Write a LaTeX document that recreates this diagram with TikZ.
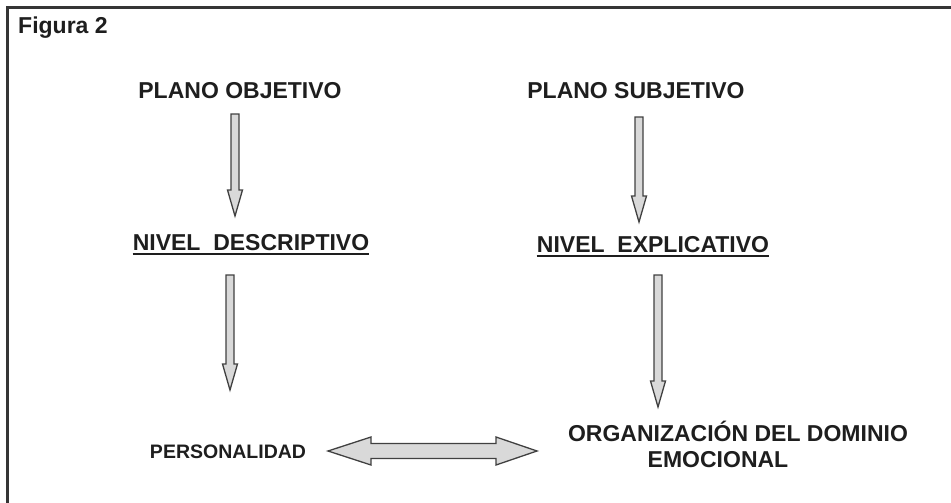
\documentclass[tikz,border=0pt]{standalone}
\usepackage{fontspec}
\setmainfont{Liberation Sans}
\usetikzlibrary{calc}
\definecolor{tinta}{HTML}{1E1E1E}
\definecolor{relleno}{HTML}{D9D9D9}
\tikzset{
  titulo/.style={font=\bfseries\fontsize{23}{25.5}\selectfont, text=tinta, inner sep=0pt},
  chico/.style={font=\bfseries\fontsize{19.5}{24}\selectfont, text=tinta, inner sep=0pt},
  flecha/.style={draw=tinta!85, fill=relleno, line width=1.3pt, line join=miter},
  subraya/.style={draw=tinta, line width=2pt},
}
% flecha de bloque vertical, de #1 hacia abajo hasta #2
\newcommand{\flechabaja}[2]{%
  \draw[flecha] let \p1=(#1), \p2=(#2) in
    (\x1-4pt,\y1) -- (\x1+4pt,\y1) -- (\x1+4pt,\y2+26pt) -- (\x1+7.5pt,\y2+26pt)
    -- (\x1,\y2) -- (\x1-7.5pt,\y2+26pt) -- (\x1-4pt,\y2+26pt) -- cycle;}
% flecha de bloque doble, horizontal
\newcommand{\flechadoble}[2]{%
  \draw[flecha] let \p1=(#1), \p2=(#2) in
    (\x1,\y1) -- (\x1+43pt,\y1+14pt) -- (\x1+43pt,\y1+7.5pt) -- (\x2-41pt,\y1+7.5pt)
    -- (\x2-41pt,\y1+14pt) -- (\x2,\y1) -- (\x2-41pt,\y1-14pt) -- (\x2-41pt,\y1-7.5pt)
    -- (\x1+43pt,\y1-7.5pt) -- (\x1+43pt,\y1-14pt) -- cycle;}
\begin{document}
\begin{tikzpicture}[x=1pt, y=-1pt]
  \useasboundingbox (0,0) rectangle (951,503);
  % marco
  \draw[tinta!90, line width=2.5pt] (7.5,503) -- (7.5,7.5) -- (951,7.5);
  % textos
  \node[titulo, anchor=west] (fig) at (18,28) {Figura 2};
  \node[titulo] (pobj) at (240,91) {PLANO OBJETIVO};
  \node[titulo] (psub) at (636,91) {PLANO SUBJETIVO};
  \node[titulo] (ndes) at (251,243) {NIVEL\ \ DESCRIPTIVO};
  \node[titulo] (nexp) at (653,245) {NIVEL\ \ EXPLICATIVO};
  \node[chico] (pers) at (228,452) {PERSONALIDAD};
  \node[titulo, align=center, anchor=base] (orga) at (738,467)
    {ORGANIZACIÓN DEL DOMINIO\\\hspace*{-40pt}EMOCIONAL};
  \draw[subraya] ($(ndes.base west)+(0,3)$) -- ($(ndes.base east)+(0,3)$);
  \draw[subraya] ($(nexp.base west)+(0,3)$) -- ($(nexp.base east)+(0,3)$);
  % extremos de las flechas
  \coordinate (a1) at (235,114);  \coordinate (b1) at (235,216);
  \coordinate (a2) at (639,117);  \coordinate (b2) at (639,222);
  \coordinate (a3) at (230,275);  \coordinate (b3) at (230,390);
  \coordinate (a4) at (658,275);  \coordinate (b4) at (658,407);
  \coordinate (d1) at (328,451);  \coordinate (d2) at (537,451);
  % flechas
  \flechabaja{a1}{b1}
  \flechabaja{a2}{b2}
  \flechabaja{a3}{b3}
  \flechabaja{a4}{b4}
  \flechadoble{d1}{d2}
\end{tikzpicture}
\end{document}
